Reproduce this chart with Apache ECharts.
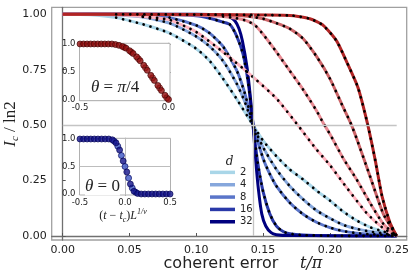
<!DOCTYPE html>
<html><head><meta charset="utf-8">
<script src="https://cdn.jsdelivr.net/npm/echarts@6/dist/echarts.min.js"></script>
<style>html,body{margin:0;padding:0;background:#fff}#c{width:415px;height:277px}</style>
</head><body><div id="c"></div>
<script>
// ---- main plot data (t/pi, I_c/ln2) ----
const xTicks = [0, 0.05, 0.10, 0.15, 0.20, 0.25];
const yTicks = [0, 0.25, 0.5, 0.75, 1.0];
const tc = 0.1425;
const legendNames = ['2', '4', '8', '16', '32'];

// theta = 0 family (blue), bond dimension d
const tB2 = [0,0.02,0.04,0.06,0.08,0.1,0.11,0.12,0.13,0.1425,0.15,0.16,0.17,0.18,0.19,0.2,0.21,0.22,0.23,0.24,0.25];
const iB2 = [1,0.998,0.985,0.955,0.915,0.845,0.79,0.71,0.62,0.5,0.43,0.36,0.30,0.255,0.205,0.16,0.11,0.07,0.04,0.02,0.005];
const tB4 = [0,0.02,0.04,0.06,0.08,0.1,0.11,0.12,0.13,0.136,0.1425,0.15,0.16,0.17,0.18,0.19,0.2,0.21,0.22,0.23,0.24,0.25];
const iB4 = [1,1,0.997,0.988,0.96,0.9,0.855,0.79,0.69,0.61,0.5,0.40,0.30,0.225,0.165,0.115,0.08,0.05,0.032,0.02,0.012,0.005];
const tB8 = [0,0.04,0.06,0.08,0.1,0.11,0.12,0.13,0.136,0.1425,0.15,0.155,0.16,0.17,0.18,0.19,0.2,0.21,0.22,0.23,0.25];
const iB8 = [1,1,0.998,0.985,0.95,0.915,0.855,0.75,0.65,0.5,0.35,0.28,0.225,0.15,0.098,0.062,0.038,0.022,0.013,0.008,0.003];
const tB16 = [0,0.04,0.08,0.1,0.11,0.12,0.125,0.13,0.135,0.139,0.1425,0.146,0.15,0.155,0.16,0.165,0.17,0.18,0.2,0.25];
const iB16 = [1,1,0.999,0.993,0.982,0.965,0.955,0.905,0.82,0.685,0.5,0.33,0.2,0.1,0.045,0.02,0.01,0.004,0.001,0];
const tB32 = [0,0.1,0.11,0.12,0.125,0.129,0.132,0.1345,0.138,0.14,0.1425,0.1445,0.1465,0.149,0.152,0.156,0.16,0.17,0.25];
const iB32 = [1,1,0.999,0.996,0.988,0.97,0.935,0.88,0.76,0.655,0.5,0.34,0.21,0.1,0.045,0.015,0.006,0.002,0];

// theta = pi/4 family (red)
const tR1 = [0,0.04,0.06,0.08,0.1,0.12,0.14,0.16,0.176,0.19,0.2,0.213,0.228,0.24,0.25];
const iR1 = [1,0.998,0.99,0.975,0.92,0.83,0.73,0.62,0.5,0.39,0.32,0.215,0.10,0.035,0];
const tR2 = [0,0.04,0.1,0.12,0.13,0.138,0.144,0.15,0.16,0.17,0.18,0.19,0.195,0.2,0.21,0.22,0.23,0.24,0.25];
const iR2 = [1,1,0.997,0.99,0.982,0.97,0.95,0.91,0.83,0.745,0.66,0.565,0.51,0.46,0.35,0.255,0.15,0.055,0];
const tR3 = [0,0.04,0.12,0.14,0.15,0.16,0.17,0.18,0.19,0.2,0.21,0.2155,0.22,0.23,0.24,0.25];
const iR3 = [1,1,0.998,0.99,0.98,0.96,0.935,0.89,0.81,0.71,0.58,0.51,0.44,0.27,0.1,0];
const tR4 = [0,0.04,0.17,0.185,0.195,0.205,0.213,0.221,0.228,0.234,0.239,0.245,0.25];
const iR4 = [1,1,0.995,0.98,0.95,0.88,0.78,0.67,0.51,0.34,0.18,0.06,0];

// ---- inset data: scaling collapse ----
const xPi4 = [-0.5,-0.48,-0.46,-0.44,-0.42,-0.4,-0.38,-0.36,-0.34,-0.32,-0.3,-0.28,-0.26,-0.24,-0.22,-0.2,-0.18,-0.16,-0.14,-0.12,-0.1,-0.08,-0.06,-0.04,-0.02,0];
const yPi4 = [1,1,1,1,1,1,1,1,1,1,0.99,0.975,0.955,0.925,0.88,0.83,0.77,0.70,0.62,0.53,0.44,0.35,0.26,0.17,0.085,0.01];
const xPi4b = [-0.25,-0.21,-0.17,-0.13,-0.09,-0.05,-0.01];
const yPi4b = [0.94,0.855,0.735,0.575,0.395,0.215,0.04];
const x0 = [-0.5,-0.46,-0.42,-0.38,-0.34,-0.3,-0.26,-0.22,-0.18,-0.14,-0.1,-0.06,-0.02,0.02,0.06,0.1,0.14,0.18,0.22,0.26,0.3,0.34,0.38,0.42,0.46,0.5];
const y0 = [1,1,1,1,1,1,1,1,1,0.985,0.93,0.80,0.60,0.40,0.18,0.05,0.01,0,0,0,0,0,0,0,0,0];
const x0b = [-0.12,-0.08,-0.04,0,0.04,0.08,0.12];
const y0b = [0.96,0.87,0.70,0.5,0.29,0.11,0.03];

const pairs = (xs, ys) => xs.map((x, i) => [x, ys[i]]);
const from = (xs, ys, t0) => pairs(xs, ys).filter(p => p[0] >= t0);

const blues = [
  {name:'2', t:tB2, v:iB2, color:'#a9d6e8', dotFrom:0.04},
  {name:'4', t:tB4, v:iB4, color:'#86a7dc', dotFrom:0.06},
  {name:'8', t:tB8, v:iB8, color:'#5a75c9', dotFrom:0.08},
  {name:'16', t:tB16, v:iB16, color:'#2a39a8', dotFrom:0.11},
  {name:'32', t:tB32, v:iB32, color:'#00007f', dotFrom:null}
];
const reds = [
  {name:'r1', t:tR1, v:iR1, color:'#ffb3bf', dotFrom:0.06},
  {name:'r2', t:tR2, v:iR2, color:'#e78b93', dotFrom:0.12},
  {name:'r3', t:tR3, v:iR3, color:'#cc6468', dotFrom:0.14},
  {name:'r4', t:tR4, v:iR4, color:'#b02424', dotFrom:0.04}
];

const series = [];
series.push({
  type:'line', xAxisIndex:0, yAxisIndex:0, data:[[0,0.5]], symbol:'none',
  lineStyle:{width:0}, z:1, silent:true,
  markLine:{silent:true, symbol:['none','none'], label:{show:false}, animation:false,
    lineStyle:{color:'#c4c4c4', width:1.3, type:'solid'},
    data:[[{coord:[tc,0]},{coord:[tc,1]}],[{coord:[0,0.5]},{coord:[0.25,0.5]}]]}
});
blues.forEach(b => series.push({
  name:b.name, type:'line', xAxisIndex:0, yAxisIndex:0, data:pairs(b.t,b.v),
  showSymbol:false, smooth:0.2, color:b.color, lineStyle:{width:3, color:b.color}, z:2
}));
reds.forEach(r => series.push({
  name:r.name, type:'line', xAxisIndex:0, yAxisIndex:0, data:pairs(r.t,r.v),
  showSymbol:false, smooth:0.2, color:r.color, lineStyle:{width:3, color:r.color}, z:3
}));
blues.concat(reds).filter(s => s.dotFrom !== null).forEach(s => series.push({
  name:'ov'+s.name, type:'line', xAxisIndex:0, yAxisIndex:0, data:from(s.t,s.v,s.dotFrom),
  showSymbol:false, smooth:0.2, color:'#000',
  lineStyle:{width:2.7, color:'#000', type:[0.1,7], cap:'round'}, z:4
}));
// inset 1 (theta = pi/4)
series.push({type:'scatter', xAxisIndex:1, yAxisIndex:1, data:pairs(xPi4b,yPi4b), symbolSize:6,
  itemStyle:{color:'#c85050', borderColor:'#5a0000', borderWidth:0.8}, z:5});
series.push({type:'scatter', xAxisIndex:1, yAxisIndex:1, data:pairs(xPi4,yPi4), symbolSize:6,
  itemStyle:{color:'#8e0a0a', borderColor:'#3a0000', borderWidth:0.8}, z:6});
// inset 2 (theta = 0)
series.push({
  type:'line', xAxisIndex:2, yAxisIndex:2, data:[[0,0.5]], symbol:'none', lineStyle:{width:0}, z:4, silent:true,
  markLine:{silent:true, symbol:['none','none'], label:{show:false}, animation:false,
    lineStyle:{color:'#bdbdbd', width:1, type:'solid'},
    data:[[{coord:[0,-0.018]},{coord:[0,1.013]}],[{coord:[-0.505,0.5]},{coord:[0.505,0.5]}]]}
});
series.push({type:'scatter', xAxisIndex:2, yAxisIndex:2, data:pairs(x0b,y0b), symbolSize:6,
  itemStyle:{color:'#3b55c4', borderColor:'#00005a', borderWidth:0.8}, z:5});
series.push({type:'scatter', xAxisIndex:2, yAxisIndex:2, data:pairs(x0,y0), symbolSize:6,
  itemStyle:{color:'#12128a', borderColor:'#000050', borderWidth:0.8}, z:6});

const f2 = v => v.toFixed(2);
const f1 = v => v.toFixed(1);
const insetAxisX = (idx, min, max, vals) => ({
  type:'value', gridIndex:idx, min, max,
  axisLine:{show:true, lineStyle:{color:'#444', width:1.2}},
  axisTick:{show:true, inside:true, length:2, customValues:vals, lineStyle:{color:'#444'}},
  axisLabel:{customValues:vals, formatter:f1, fontSize:8.5, color:'#222', margin:3, fontFamily:'DejaVu Sans'},
  splitLine:{show:false}
});
const insetAxisY = (idx, min, max) => ({
  type:'value', gridIndex:idx, min, max,
  axisLine:{show:true, lineStyle:{color:'#444', width:1.2}},
  axisTick:{show:true, inside:true, length:2, customValues:[0,0.5,1], lineStyle:{color:'#444'}},
  axisLabel:{customValues:[0,0.5,1], formatter:f1, fontSize:8.5, color:'#222', margin:4, fontFamily:'DejaVu Sans'},
  splitLine:{show:false}
});

const option = {
  animation:false,
  backgroundColor:'#fff',
  textStyle:{fontFamily:'DejaVu Sans'},
  grid:[
    {left:51.7, top:7.3, width:355, height:232.7, show:true, borderColor:'#a0a0a0', borderWidth:1.3, backgroundColor:'#fff'},
    {left:79.5, top:43.3, width:90.5, height:57.4, show:true, borderColor:'#b0b0b0', borderWidth:1, backgroundColor:'#fff', z:3},
    {left:79.5, top:138.3, width:91, height:56.7, show:true, borderColor:'#b0b0b0', borderWidth:1, backgroundColor:'#fff', z:3}
  ],
  xAxis:[
    {type:'value', gridIndex:0, min:-0.00823, max:0.25749,
     axisLine:{show:true, lineStyle:{color:'#707070', width:1.3}},
     axisTick:{show:true, inside:true, length:3, customValues:xTicks, lineStyle:{color:'#555'}},
     axisLabel:{customValues:xTicks, formatter:f2, fontSize:11, color:'#222', margin:5},
     splitLine:{show:false}},
    insetAxisX(1, -0.503, 0.0085, [-0.5, 0]),
    insetAxisX(2, -0.505, 0.505, [-0.5, 0, 0.5])
  ],
  yAxis:[
    {type:'value', gridIndex:0, min:-0.018, max:1.0316,
     axisLine:{show:true, lineStyle:{color:'#707070', width:1.3}},
     axisTick:{show:true, inside:true, length:3, customValues:yTicks, lineStyle:{color:'#555'}},
     axisLabel:{customValues:yTicks, formatter:f2, fontSize:11, color:'#222', margin:5},
     splitLine:{show:false}},
    insetAxisY(1, -0.012, 1.012),
    insetAxisY(2, -0.018, 1.013)
  ],
  legend:{
    data:legendNames, orient:'vertical', left:210, top:166.2, itemGap:0, padding:0,
    icon:'rect', itemWidth:25, itemHeight:3.5, selectedMode:false,
    textStyle:{fontSize:10, lineHeight:12.35, color:'#222', fontFamily:'DejaVu Sans'}
  },
  graphic:[
    {type:'text', x:229.5, y:161.5, z:10, style:{text:'d', font:'italic 12px "DejaVu Serif"', fill:'#222', align:'center', verticalAlign:'middle'}},
    {type:'text', x:221, y:264, z:10, style:{text:'coherent error', font:'16px "DejaVu Sans"', fill:'#222', align:'center', verticalAlign:'middle'}},
    {type:'text', x:300, y:264, z:10, style:{text:'t/π', font:'italic 16px "DejaVu Serif"', fill:'#222', align:'left', verticalAlign:'middle'}},
    {type:'text', x:11, y:124, rotation:Math.PI/2, z:10, style:{
      text:'{i|I}{s|c}{n| / ln2}', align:'center', verticalAlign:'middle', fill:'#222',
      rich:{
        i:{fontFamily:'Liberation Serif', fontStyle:'italic', fontSize:17, lineHeight:20, verticalAlign:'middle'},
        s:{fontFamily:'Liberation Serif', fontStyle:'italic', fontSize:11, lineHeight:11, verticalAlign:'bottom'},
        n:{fontFamily:'Liberation Serif', fontSize:17, lineHeight:20, verticalAlign:'middle'}
      }}},
    {type:'text', x:91, y:88, z:10, style:{
      text:'{g|θ}{n| = }{g|π}{n|/4}', align:'left', verticalAlign:'middle', fill:'#222',
      rich:{
        g:{fontFamily:'Liberation Serif', fontStyle:'italic', fontSize:17},
        n:{fontFamily:'Liberation Serif', fontSize:17}
      }}},
    {type:'text', x:85, y:187, z:10, style:{
      text:'{g|θ}{n| = 0}', align:'left', verticalAlign:'middle', fill:'#222',
      backgroundColor:'#fff',
      rich:{
        g:{fontFamily:'Liberation Serif', fontStyle:'italic', fontSize:17},
        n:{fontFamily:'Liberation Serif', fontSize:17}
      }}},
    {type:'text', x:123, y:216, z:10, style:{
      text:'{n|(}{i|t}{n| − }{i|t}{s|c}{n|)}{i|L}{p|1/ν}', align:'center', verticalAlign:'middle', fill:'#222',
      rich:{
        n:{fontFamily:'Liberation Serif', fontSize:12, lineHeight:16, verticalAlign:'middle'},
        i:{fontFamily:'Liberation Serif', fontStyle:'italic', fontSize:12, lineHeight:16, verticalAlign:'middle'},
        s:{fontFamily:'Liberation Serif', fontStyle:'italic', fontSize:8, lineHeight:8, verticalAlign:'bottom'},
        p:{fontFamily:'Liberation Serif', fontStyle:'italic', fontSize:8, lineHeight:8, verticalAlign:'top'}
      }}}
  ],
  series
};
const chart = echarts.init(document.getElementById('c'), null, {renderer:'canvas'});
chart.setOption(option);
</script></body></html>
